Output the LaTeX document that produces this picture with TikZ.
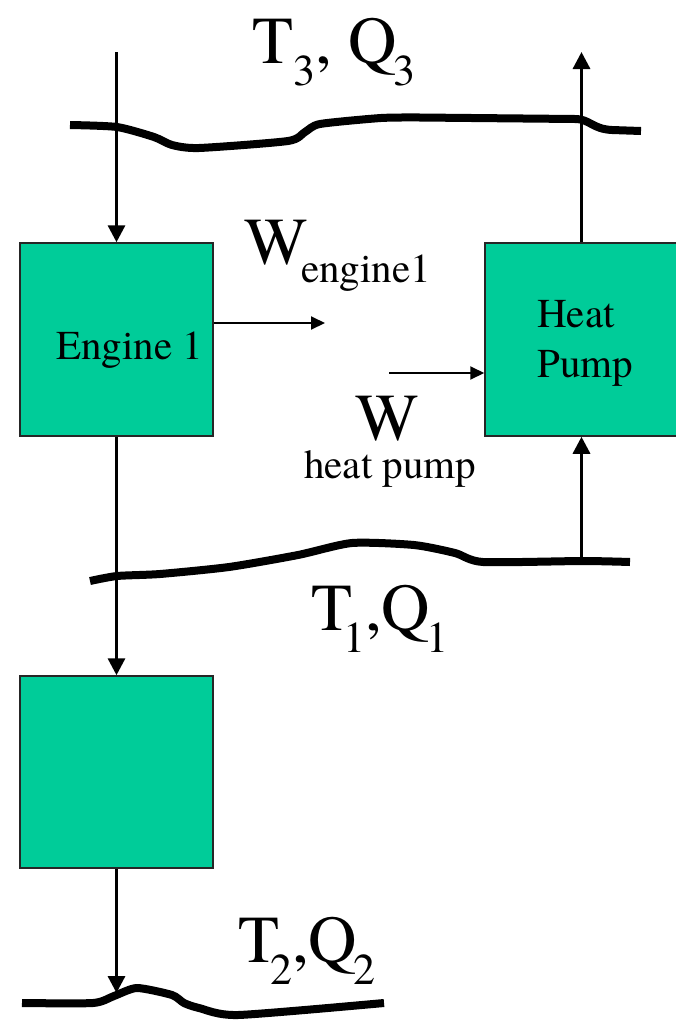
\documentclass[tikz,border=0pt]{standalone}
\usepackage{fontspec}
\setmainfont{TeX Gyre Termes}
\usetikzlibrary{arrows.meta}
\definecolor{boxgreen}{RGB}{0,204,153}
\newcommand\bigsz{\fontsize{67}{70}\selectfont}
\newcommand\subsz{\fontsize{44}{48}\selectfont}
\newcommand\txtsz{\fontsize{41}{48}\selectfont}
\newcommand\TQlab[4]{T\kern#3\raisebox{-22pt}{\subsz #1},#4Q\kern-4pt\raisebox{-22pt}{\subsz #2}}
\tikzset{
  machine/.style={draw=black!85, line width=1.5pt, fill=boxgreen, minimum width=193pt, minimum height=193pt, inner sep=0pt},
  reservoir/.style={line width=8pt, line cap=butt, line join=round},
  heatflow/.style={line width=3.2pt, -{Triangle[length=17pt,width=17pt]}},
  workflow/.style={line width=2pt, -{Triangle[length=14pt,width=13pt]}},
  lab/.style={inner sep=0pt, anchor=base west},
}
\begin{document}
\begin{tikzpicture}[x=1pt,y=-1pt]
\useasboundingbox (0,0) rectangle (676,1023);
% reservoirs
\draw[reservoir] plot[smooth, tension=0.4] coordinates {(70,125) (117,127) (154,137) (172,145) (199,148) (288,141) (305,132) (320,124) (381,118) (420,117.5)}
  -- (575,119) .. controls (590,119) and (592,129) .. (612,130) -- (641,131);
\draw[reservoir] plot[smooth, tension=0.4] coordinates {(90,581) (117,576) (160,574) (229,567) (298,555) (352,543) (414,545) (455,553) (483,562) (583,561) (630,562)};
\draw[reservoir] plot[smooth, tension=0.4] coordinates {(22,1003) (93,1003) (114,996) (137,988) (172,995) (184,1003) (199,1008) (238,1015) (384,1003)};
% machines
\node[machine] (e1) at (116.5,339.5) {};
\node[machine] (hp) at (581.5,339.5) {};
\node[machine, minimum height=192pt] (e2) at (116.5,772) {};
\node[lab, font=\txtsz] (e1t) at (56,359) {Engine 1};
\node[lab, font=\txtsz] (hpt1) at (537,327) {Heat};
\node[lab, font=\txtsz] (hpt2) at (537,377) {Pump};
% end points
\coordinate (in3) at (116.5,52);
\coordinate (out3) at (581.5,52);
\coordinate (from1) at (581.5,562);
\coordinate (to2) at (116.5,993);
\coordinate (wout) at (325,323);
\coordinate (win) at (389,373);
% heat flows
\draw[heatflow] (in3) -- (e1.north);
\draw[heatflow] (hp.north) -- (out3);
\draw[heatflow] (e1.south) -- (e2.north);
\draw[heatflow] (from1) -- (hp.south);
\draw[heatflow] (e2.south) -- (to2);
% work flows
\draw[workflow] (e1.east |- wout) -- (wout);
\draw[workflow] (win) -- (hp.west |- win);
% labels
\node[lab] (w1) at (244,264) {\bigsz W};
\node[lab, font=\txtsz] (w1s) at (301,282) {engine1};
\node[lab] (w2) at (355,440) {\bigsz W};
\node[lab, font=\txtsz] (w2s) at (304,478) {heat pump};
\node[lab] (tq3) at (252,63) {\bigsz \TQlab{3}{3}{0pt}{ }};
\node[lab] (tq1) at (311,630) {\bigsz \TQlab{1}{1}{-9pt}{}};
\node[lab] (tq2) at (238,962) {\bigsz \TQlab{2}{2}{-9pt}{}};
\end{tikzpicture}
\end{document}
